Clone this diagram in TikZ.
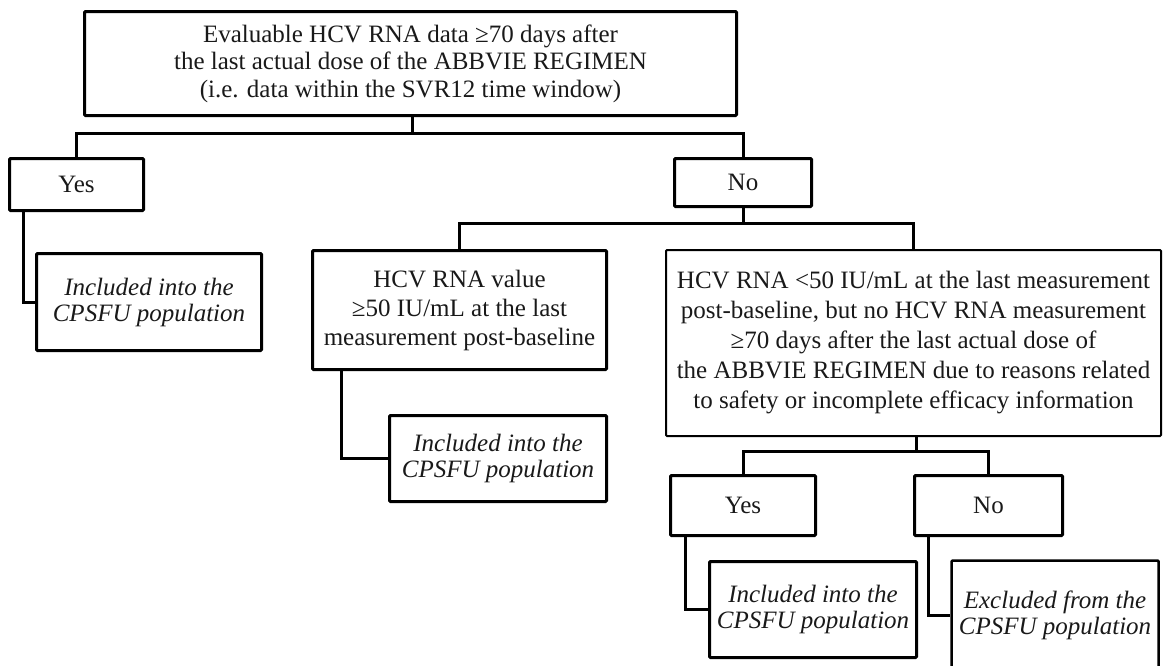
\documentclass[tikz,border=0pt]{standalone}
\usepackage{fontspec}
\setmainfont{Liberation Serif}
\begin{document}
\begin{tikzpicture}[x=1pt,y=-1pt]
\tikzset{
  box/.style={draw=black, line width=3pt, rounded corners=1pt, inner sep=0pt, align=center,
    text=black!90, font=\fontsize{25}{27.5}\selectfont},
  ibox/.style={box, font=\fontsize{25}{26}\selectfont\itshape},
  conn/.style={draw=black, line width=3pt, line join=miter}
}
\useasboundingbox (0,0) rectangle (1164,665);
\clip (0,0) rectangle (1164,665);

\node[box, minimum width=652pt, minimum height=104pt] (top) at (410.5,63.5)
  {Evaluable HCV RNA data ≥70 days after\\the last actual dose of the ABBVIE REGIMEN\\(i.e. data within the SVR12 time window)};
\node[box, minimum width=134pt, minimum height=52pt] (yes1) at (76.5,184.5) {Yes};
\node[box, minimum width=137pt, minimum height=48pt] (no1) at (743,182.5) {No};
\node[ibox, minimum width=225pt, minimum height=97pt] (inc1) at (149,302) {Included into the\\CPSFU population};
\node[box, font=\fontsize{25}{29}\selectfont, minimum width=294pt, minimum height=119pt] (val) at (459.5,310)
  {HCV RNA value\\≥50 IU/mL at the last\\measurement post-baseline};
\node[box, line width=2pt, font=\fontsize{25}{30}\selectfont, minimum width=495pt, minimum height=186pt] (big) at (913.5,343)
  {HCV RNA <50 IU/mL at the last measurement\\post-baseline, but no HCV RNA measurement\\≥70 days after the last actual dose of\\the ABBVIE REGIMEN due to reasons related\\to safety or incomplete efficacy information};
\node[ibox, minimum width=217pt, minimum height=86pt] (inc2) at (498,458.5) {Included into the\\CPSFU population};
\node[box, minimum width=145pt, minimum height=60pt] (yes2) at (743,505.5) {Yes};
\node[box, minimum width=148pt, minimum height=60pt] (no2) at (988.5,505.5) {No};
\node[ibox, minimum width=207pt, minimum height=96pt] (inc3) at (813,609.5) {Included into the\\CPSFU population};
\node[ibox, line width=2.5pt, minimum width=207pt, minimum height=110pt] (exc) at (1055,615.5) {Excluded from the\\CPSFU population};

\coordinate (j1) at (412,133);
\coordinate (j2) at (743,223);
\coordinate (j3) at (916,451);
\coordinate (x1) at (23,0);
\coordinate (x2) at (341,0);
\coordinate (x3) at (685,0);
\coordinate (x4) at (928,0);

\draw[conn] (top.south -| j1) -- (j1);
\draw[conn] (yes1.north) |- (j1) -| (no1.north);
\draw[conn] (yes1.south -| x1) |- (inc1.west);
\draw[conn] (no1.south) -- (j2);
\draw[conn] (val.north) |- (j2) -| (big.north);
\draw[conn] (val.south -| x2) |- (inc2.west);
\draw[conn] (big.south -| j3) -- (j3);
\draw[conn] (yes2.north) |- (j3) -| (no2.north);
\draw[conn] (yes2.south -| x3) |- (inc3.west);
\draw[conn] (no2.south -| x4) |- (exc.west);
\end{tikzpicture}
\end{document}
